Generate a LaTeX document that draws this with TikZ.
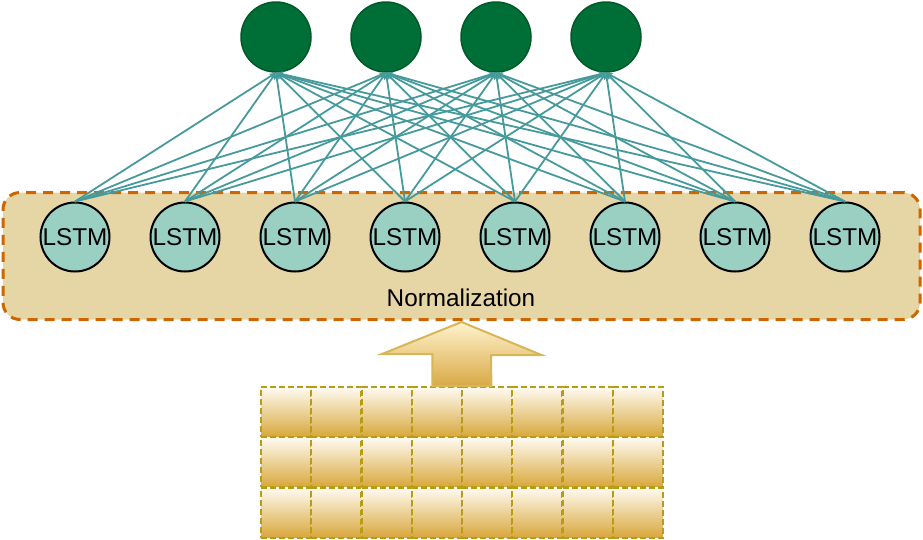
\documentclass[tikz,border=0pt]{standalone}
\usepackage{fontspec}
\setmainfont{Liberation Sans}
\usetikzlibrary{arrows.meta, positioning, calc}
\definecolor{cout}{HTML}{006E37}
\definecolor{coutline}{HTML}{005A28}
\definecolor{clstm}{HTML}{9AD0C2}
\definecolor{cedge}{HTML}{479A9B}
\definecolor{cnorm}{HTML}{E6D6A6}
\definecolor{cnormline}{HTML}{CC6600}
\definecolor{ctop}{HTML}{FFFBF2}
\definecolor{cbot}{HTML}{D8A73B}
\definecolor{ccellline}{HTML}{B89C14}
\definecolor{carrtop}{HTML}{FFF3CE}
\definecolor{carrbot}{HTML}{D9A945}
\definecolor{carrline}{HTML}{D6B656}
\tikzset{
  every picture/.style={font=\fontsize{24.3}{28}\selectfont},
  outunit/.style={circle, draw=coutline, fill=cout, line width=1.5pt, minimum size=70pt, inner sep=0pt},
  lstm/.style={circle, draw=black, fill=clstm, line width=2pt, minimum size=69pt, inner sep=0pt},
  norm/.style={draw=cnormline, fill=cnorm, line width=3pt, dash pattern=on 10pt off 7pt, rounded corners=17pt, minimum width=917pt, minimum height=127pt},
  link/.style={-{Stealth[length=7pt, width=6pt]}, draw=cedge, line width=1.8pt},
  cell/.style={draw=ccellline, top color=ctop, bottom color=cbot, line width=2pt, dash pattern=on 6pt off 3pt, minimum size=50pt, inner sep=0pt},
  bigarrow/.style={draw=carrline, top color=carrtop, bottom color=carrbot, line width=2pt},
}
\begin{document}
\begin{tikzpicture}[x=1pt, y=-1pt, node distance=39pt]
  \useasboundingbox (0,0) rectangle (923,539);
  % normalization layer
  \node[norm] (norm) at (461.5,256) {};
  \node (normtxt) at (461,298) {Normalization};
  % lstm units
  \node[lstm] (l1) at (75,237) {LSTM};
  \foreach \i [remember=\i as \j (initially 1)] in {2,...,8}
    \node[lstm, right=of l\j] (l\i) {LSTM};
  % output units
  \node[outunit] (o1) at (276,37) {};
  \foreach \i [remember=\i as \j (initially 1)] in {2,3,4}
    \node[outunit, right=38.5pt of o\j] (o\i) {};
  \foreach \i in {1,...,8}
    \foreach \k in {1,...,4}
      \draw[link] (l\i.north) -- (o\k.south);
  % input grid
  \foreach \r in {0,1,2}
    \foreach \c in {0,...,7}
      \node[cell] (g\r\c) at ({286+50.25*\c},{412+50.3*\r}) {};
  \coordinate (arrtip) at ([yshift=-1pt]norm.south);
  \path[bigarrow] (arrtip) -- ++(80,33) -- ++(-50.5,0) -- ($(g03.north)!0.5!(g04.north)+(29.5,0)$) -- ++(-59,0) -- ++(0,-32) -- ++(-50.5,0) -- cycle;
\end{tikzpicture}
\end{document}
